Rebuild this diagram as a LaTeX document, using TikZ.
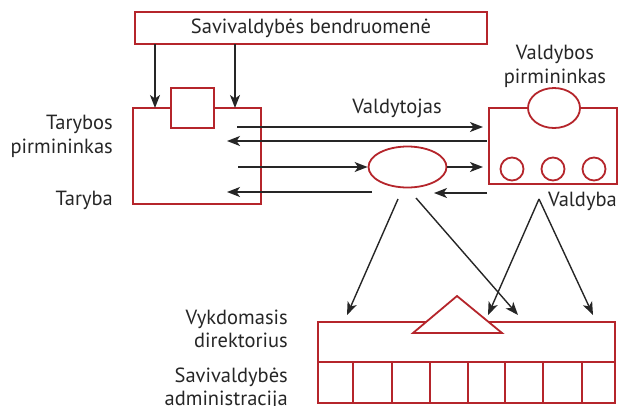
\documentclass[tikz,border=0pt]{standalone}
\usepackage{fontspec}
\setmainfont{PT Sans}
\usetikzlibrary{arrows.meta,shapes.geometric,calc}
\definecolor{boxred}{HTML}{B5252B}
\definecolor{ink}{HTML}{262626}
\tikzset{
  redbox/.style={draw=boxred,line width=1.8pt,fill=white,inner sep=0pt},
  arr/.style={draw=ink,line width=1.4pt,-{Stealth[length=13pt,width=10pt,inset=3.5pt]}},
  plain/.style={draw=ink,line width=1.4pt},
  lbl/.style={text=ink,font=\fontsize{20.5}{24}\selectfont,inner sep=0pt},
}
\begin{document}
\begin{tikzpicture}[x=1pt,y=-1pt]
\useasboundingbox (0,0) rectangle (620,405);
% top box
\node[redbox,rectangle,minimum width=352pt,minimum height=32pt,lbl] (top) at (311,28) {Savivaldybės bendruomenė};
% left box
\node[redbox,rectangle,minimum width=128pt,minimum height=96pt] (tar) at (197,156) {};
\node[redbox,rectangle,minimum width=43pt,minimum height=40pt] (sq) at (192.5,108) {};
% right box
\node[redbox,rectangle,minimum width=128pt,minimum height=76pt] (val) at (553,146) {};
\node[redbox,ellipse,minimum width=52pt,minimum height=40pt] (vp) at (554,108) {};
\node[redbox,circle,minimum size=23pt] (c1) at (512,169) {};
\node[redbox,circle,minimum size=23pt] (c2) at (553,169) {};
\node[redbox,circle,minimum size=23pt] (c3) at (594,169) {};
% middle ellipse
\node[redbox,ellipse,minimum width=78pt,minimum height=41pt] (mel) at (407.5,167) {};
% bottom box
\node[redbox,rectangle,minimum width=297pt,minimum height=81pt] (adm) at (466.5,362.5) {};
\draw[boxred,line width=1.8pt] (adm.west |- 0,362) -- (adm.east |- 0,362);
\foreach \x in {353,392,430,468,505,543,582}
  \draw[boxred,line width=1.8pt] (\x,362) -- (\x,403);
\coordinate (ta) at (457,296);
\coordinate (tb) at (413,333);
\coordinate (tc) at (502,333);
\filldraw[draw=boxred,fill=white,line width=1.8pt,line join=miter] (ta) -- (tb) -- (tc) -- cycle;
% labels
\node[lbl,anchor=base east] (l1) at (113,129) {Tarybos};
\node[lbl,anchor=base east] (l2) at (113,153) {pirmininkas};
\node[lbl,anchor=base east] (l3) at (113,205) {Taryba};
\node[lbl,anchor=base] (l4) at (397,113) {Valdytojas};
\node[lbl,anchor=base] (l5) at (555,59) {Valdybos};
\node[lbl,anchor=base] (l6) at (555,83) {pirmininkas};
\node[lbl,anchor=base west] (l7) at (548,206) {Valdyba};
\node[lbl,anchor=base east] (l8) at (288,324) {Vykdomasis};
\node[lbl,anchor=base east] (l9) at (288,347) {direktorius};
\node[lbl,anchor=base east] (l10) at (288,382) {Savivaldybės};
\node[lbl,anchor=base east] (l11) at (288,405) {administracija};
% arrows from top box
\coordinate (t1) at (155,44); \coordinate (t1e) at (155,108);
\coordinate (t2) at (235,44); \coordinate (t2e) at (235,108);
\draw[arr] (t1) -- (t1e);
\draw[arr] (t2) -- (t2e);
% horizontal arrows
\coordinate (h1s) at (237,127); \coordinate (h1e) at (483,127);
\draw[arr] (h1s) -- (h1e);
\coordinate (h2s) at (487,141); \coordinate (h2e) at (227,141);
\draw[arr] (h2s) -- (h2e);
\coordinate (h3s) at (238,167);
\draw[arr] (h3s) -- (mel.west);
\coordinate (h4e) at (483,167);
\draw[arr] (mel.east) -- (h4e);
\coordinate (h5s) at (372,192); \coordinate (h5e) at (227,192);
\draw[arr] (h5s) -- (h5e);
\coordinate (h6s) at (487,193); \coordinate (h6e) at (434,193);
\draw[arr] (h6s) -- (h6e);
% diagonal arrows
\coordinate (d1s) at (398,199); \coordinate (d1e) at (347,315);
\coordinate (d2s) at (416,198); \coordinate (d2e) at (518,315);
\coordinate (v0) at (539,199);
\coordinate (d3e) at (488,315); \coordinate (d4e) at (593,315);
\draw[arr] (d1s) -- (d1e);
\draw[arr] (d2s) -- (d2e);
\draw[arr] (v0) -- (d3e);
\draw[arr] (v0) -- (d4e);
\end{tikzpicture}
\end{document}
